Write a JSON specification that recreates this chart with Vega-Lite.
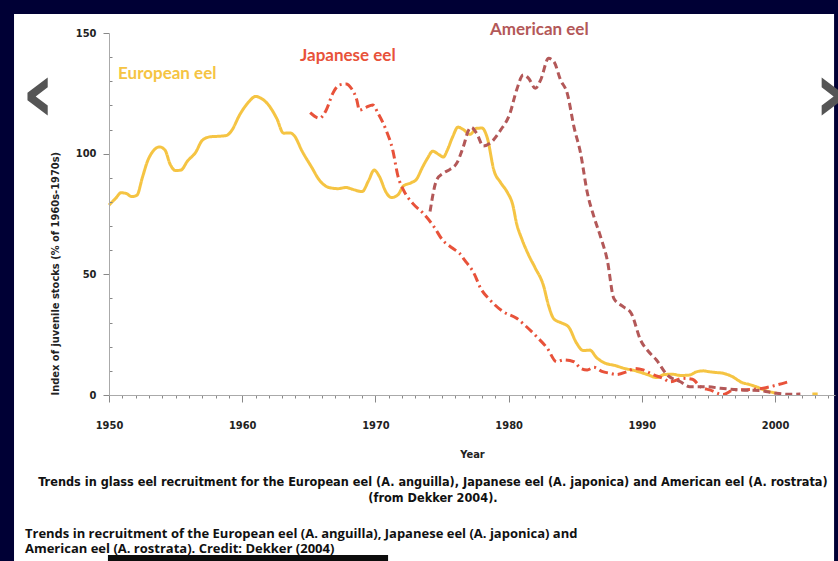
{
  "$schema": "https://vega.github.io/schema/vega-lite/v6.json",
  "width": 726,
  "height": 362,
  "autosize": "none",
  "padding": {"left": 109, "top": 33, "right": 3, "bottom": 166},
  "background": "#000035",
  "config": {"view": {"stroke": null}},
  "data": {"values": [{"note": "annotation"}]},
  "datasets": {
    "eels": [
      {"series": "European eel", "seg": "a", "year": 1950.0, "value": 78.7},
      {"series": "European eel", "seg": "a", "year": 1950.5, "value": 81.5},
      {"series": "European eel", "seg": "a", "year": 1950.9, "value": 83.8},
      {"series": "European eel", "seg": "a", "year": 1951.3, "value": 83.5},
      {"series": "European eel", "seg": "a", "year": 1951.7, "value": 82.2},
      {"series": "European eel", "seg": "a", "year": 1952.1, "value": 82.8},
      {"series": "European eel", "seg": "a", "year": 1952.5, "value": 90},
      {"series": "European eel", "seg": "a", "year": 1952.9, "value": 97},
      {"series": "European eel", "seg": "a", "year": 1953.3, "value": 101},
      {"series": "European eel", "seg": "a", "year": 1953.8, "value": 102.8},
      {"series": "European eel", "seg": "a", "year": 1954.2, "value": 101.5},
      {"series": "European eel", "seg": "a", "year": 1954.6, "value": 95.5},
      {"series": "European eel", "seg": "a", "year": 1955.0, "value": 93},
      {"series": "European eel", "seg": "a", "year": 1955.4, "value": 93.2},
      {"series": "European eel", "seg": "a", "year": 1955.9, "value": 97},
      {"series": "European eel", "seg": "a", "year": 1956.5, "value": 100.5},
      {"series": "European eel", "seg": "a", "year": 1957.0, "value": 105.5},
      {"series": "European eel", "seg": "a", "year": 1957.6, "value": 107},
      {"series": "European eel", "seg": "a", "year": 1958.2, "value": 107.2},
      {"series": "European eel", "seg": "a", "year": 1958.8, "value": 107.5},
      {"series": "European eel", "seg": "a", "year": 1959.2, "value": 109.5},
      {"series": "European eel", "seg": "a", "year": 1959.8, "value": 116},
      {"series": "European eel", "seg": "a", "year": 1960.5, "value": 121.5},
      {"series": "European eel", "seg": "a", "year": 1961.0, "value": 123.7},
      {"series": "European eel", "seg": "a", "year": 1961.4, "value": 123},
      {"series": "European eel", "seg": "a", "year": 1962.0, "value": 120},
      {"series": "European eel", "seg": "a", "year": 1962.6, "value": 114.5},
      {"series": "European eel", "seg": "a", "year": 1963.1, "value": 108.5},
      {"series": "European eel", "seg": "a", "year": 1963.6, "value": 108.6},
      {"series": "European eel", "seg": "a", "year": 1963.9, "value": 107.5},
      {"series": "European eel", "seg": "a", "year": 1964.5, "value": 101},
      {"series": "European eel", "seg": "a", "year": 1965.2, "value": 94.5},
      {"series": "European eel", "seg": "a", "year": 1965.8, "value": 89},
      {"series": "European eel", "seg": "a", "year": 1966.5, "value": 86},
      {"series": "European eel", "seg": "a", "year": 1967.2, "value": 85.5},
      {"series": "European eel", "seg": "a", "year": 1967.8, "value": 86},
      {"series": "European eel", "seg": "a", "year": 1968.3, "value": 85.2},
      {"series": "European eel", "seg": "a", "year": 1969.0, "value": 84.3},
      {"series": "European eel", "seg": "a", "year": 1969.5, "value": 89},
      {"series": "European eel", "seg": "a", "year": 1969.9, "value": 93.2},
      {"series": "European eel", "seg": "a", "year": 1970.3, "value": 90.5},
      {"series": "European eel", "seg": "a", "year": 1970.8, "value": 84},
      {"series": "European eel", "seg": "a", "year": 1971.2, "value": 81.8},
      {"series": "European eel", "seg": "a", "year": 1971.7, "value": 83},
      {"series": "European eel", "seg": "a", "year": 1972.1, "value": 86.6},
      {"series": "European eel", "seg": "a", "year": 1972.7, "value": 88},
      {"series": "European eel", "seg": "a", "year": 1973.1, "value": 89.5},
      {"series": "European eel", "seg": "a", "year": 1973.5, "value": 94},
      {"series": "European eel", "seg": "a", "year": 1973.9, "value": 98},
      {"series": "European eel", "seg": "a", "year": 1974.3, "value": 101},
      {"series": "European eel", "seg": "a", "year": 1974.8, "value": 99.5},
      {"series": "European eel", "seg": "a", "year": 1975.1, "value": 98.6},
      {"series": "European eel", "seg": "a", "year": 1975.4, "value": 101.5},
      {"series": "European eel", "seg": "a", "year": 1975.8, "value": 107},
      {"series": "European eel", "seg": "a", "year": 1976.2, "value": 111},
      {"series": "European eel", "seg": "a", "year": 1976.6, "value": 110},
      {"series": "European eel", "seg": "a", "year": 1977.1, "value": 108},
      {"series": "European eel", "seg": "a", "year": 1977.6, "value": 110.5},
      {"series": "European eel", "seg": "a", "year": 1978.0, "value": 110.6},
      {"series": "European eel", "seg": "a", "year": 1978.4, "value": 106.5},
      {"series": "European eel", "seg": "a", "year": 1978.9, "value": 93},
      {"series": "European eel", "seg": "a", "year": 1979.4, "value": 88},
      {"series": "European eel", "seg": "a", "year": 1979.9, "value": 84},
      {"series": "European eel", "seg": "a", "year": 1980.3, "value": 79},
      {"series": "European eel", "seg": "a", "year": 1980.6, "value": 71},
      {"series": "European eel", "seg": "a", "year": 1981.0, "value": 64.5},
      {"series": "European eel", "seg": "a", "year": 1981.5, "value": 58},
      {"series": "European eel", "seg": "a", "year": 1982.0, "value": 52.6},
      {"series": "European eel", "seg": "a", "year": 1982.6, "value": 45.6},
      {"series": "European eel", "seg": "a", "year": 1983.0, "value": 37},
      {"series": "European eel", "seg": "a", "year": 1983.4, "value": 31.5},
      {"series": "European eel", "seg": "a", "year": 1984.0, "value": 29.8},
      {"series": "European eel", "seg": "a", "year": 1984.5, "value": 28.2},
      {"series": "European eel", "seg": "a", "year": 1985.1, "value": 21.5},
      {"series": "European eel", "seg": "a", "year": 1985.6, "value": 18.4},
      {"series": "European eel", "seg": "a", "year": 1986.1, "value": 18.6},
      {"series": "European eel", "seg": "a", "year": 1986.6, "value": 15.5},
      {"series": "European eel", "seg": "a", "year": 1987.2, "value": 13.3},
      {"series": "European eel", "seg": "a", "year": 1988.0, "value": 12.2},
      {"series": "European eel", "seg": "a", "year": 1988.7, "value": 11},
      {"series": "European eel", "seg": "a", "year": 1989.4, "value": 10.2},
      {"series": "European eel", "seg": "a", "year": 1989.9, "value": 9.4},
      {"series": "European eel", "seg": "a", "year": 1990.5, "value": 8.3},
      {"series": "European eel", "seg": "a", "year": 1991.1, "value": 7.2},
      {"series": "European eel", "seg": "a", "year": 1991.7, "value": 8.5},
      {"series": "European eel", "seg": "a", "year": 1992.3, "value": 8.6},
      {"series": "European eel", "seg": "a", "year": 1992.9, "value": 8.1},
      {"series": "European eel", "seg": "a", "year": 1993.6, "value": 8.3},
      {"series": "European eel", "seg": "a", "year": 1994.1, "value": 9.6},
      {"series": "European eel", "seg": "a", "year": 1994.6, "value": 10},
      {"series": "European eel", "seg": "a", "year": 1995.1, "value": 9.6},
      {"series": "European eel", "seg": "a", "year": 1995.6, "value": 9.3},
      {"series": "European eel", "seg": "a", "year": 1996.1, "value": 9},
      {"series": "European eel", "seg": "a", "year": 1996.8, "value": 7.6},
      {"series": "European eel", "seg": "a", "year": 1997.5, "value": 5.2},
      {"series": "European eel", "seg": "a", "year": 1998.1, "value": 4.3},
      {"series": "European eel", "seg": "a", "year": 1998.7, "value": 3.2},
      {"series": "European eel", "seg": "a", "year": 1999.3, "value": 1.8},
      {"series": "European eel", "seg": "a", "year": 2000.1, "value": 0.8},
      {"series": "European eel", "seg": "b", "year": 2002.8, "value": 0.4},
      {"series": "European eel", "seg": "b", "year": 2003.2, "value": 0.4},
      {"series": "Japanese eel", "seg": "a", "year": 1965.1, "value": 117},
      {"series": "Japanese eel", "seg": "a", "year": 1965.8, "value": 114.7},
      {"series": "Japanese eel", "seg": "a", "year": 1966.3, "value": 118},
      {"series": "Japanese eel", "seg": "a", "year": 1966.8, "value": 125},
      {"series": "Japanese eel", "seg": "a", "year": 1967.3, "value": 128.5},
      {"series": "Japanese eel", "seg": "a", "year": 1967.8, "value": 128.9},
      {"series": "Japanese eel", "seg": "a", "year": 1968.2, "value": 127},
      {"series": "Japanese eel", "seg": "a", "year": 1968.6, "value": 122.3},
      {"series": "Japanese eel", "seg": "a", "year": 1968.8, "value": 118},
      {"series": "Japanese eel", "seg": "a", "year": 1969.3, "value": 119.2},
      {"series": "Japanese eel", "seg": "a", "year": 1969.8, "value": 120.2},
      {"series": "Japanese eel", "seg": "a", "year": 1970.2, "value": 116.7},
      {"series": "Japanese eel", "seg": "a", "year": 1970.8, "value": 109.8},
      {"series": "Japanese eel", "seg": "a", "year": 1971.3, "value": 101.5},
      {"series": "Japanese eel", "seg": "a", "year": 1971.7, "value": 90.5},
      {"series": "Japanese eel", "seg": "a", "year": 1972.1, "value": 85},
      {"series": "Japanese eel", "seg": "a", "year": 1972.8, "value": 79.4},
      {"series": "Japanese eel", "seg": "a", "year": 1973.6, "value": 75.2},
      {"series": "Japanese eel", "seg": "a", "year": 1974.4, "value": 69.7},
      {"series": "Japanese eel", "seg": "a", "year": 1975.0, "value": 64.5},
      {"series": "Japanese eel", "seg": "a", "year": 1975.8, "value": 60.8},
      {"series": "Japanese eel", "seg": "a", "year": 1976.3, "value": 58.8},
      {"series": "Japanese eel", "seg": "a", "year": 1976.7, "value": 55.9},
      {"series": "Japanese eel", "seg": "a", "year": 1977.4, "value": 50.4},
      {"series": "Japanese eel", "seg": "a", "year": 1977.9, "value": 44.2},
      {"series": "Japanese eel", "seg": "a", "year": 1978.6, "value": 39.4},
      {"series": "Japanese eel", "seg": "a", "year": 1979.6, "value": 34.5},
      {"series": "Japanese eel", "seg": "a", "year": 1980.6, "value": 31.8},
      {"series": "Japanese eel", "seg": "a", "year": 1981.2, "value": 29},
      {"series": "Japanese eel", "seg": "a", "year": 1982.1, "value": 24.2},
      {"series": "Japanese eel", "seg": "a", "year": 1982.9, "value": 19.4},
      {"series": "Japanese eel", "seg": "a", "year": 1983.6, "value": 13.8},
      {"series": "Japanese eel", "seg": "a", "year": 1984.1, "value": 14.5},
      {"series": "Japanese eel", "seg": "a", "year": 1984.9, "value": 13.8},
      {"series": "Japanese eel", "seg": "a", "year": 1985.4, "value": 11.1},
      {"series": "Japanese eel", "seg": "a", "year": 1985.9, "value": 10.4},
      {"series": "Japanese eel", "seg": "a", "year": 1986.4, "value": 11.5},
      {"series": "Japanese eel", "seg": "a", "year": 1987.0, "value": 9.8},
      {"series": "Japanese eel", "seg": "a", "year": 1987.6, "value": 9},
      {"series": "Japanese eel", "seg": "a", "year": 1988.1, "value": 8.5},
      {"series": "Japanese eel", "seg": "a", "year": 1988.9, "value": 9.7},
      {"series": "Japanese eel", "seg": "a", "year": 1989.5, "value": 11},
      {"series": "Japanese eel", "seg": "a", "year": 1990.1, "value": 10.4},
      {"series": "Japanese eel", "seg": "a", "year": 1990.9, "value": 8.3},
      {"series": "Japanese eel", "seg": "a", "year": 1991.6, "value": 6.9},
      {"series": "Japanese eel", "seg": "a", "year": 1992.1, "value": 5.5},
      {"series": "Japanese eel", "seg": "a", "year": 1993.1, "value": 6.9},
      {"series": "Japanese eel", "seg": "a", "year": 1993.8, "value": 6.5},
      {"series": "Japanese eel", "seg": "a", "year": 1994.4, "value": 3.4},
      {"series": "Japanese eel", "seg": "a", "year": 1995.1, "value": 2.1},
      {"series": "Japanese eel", "seg": "a", "year": 1996.1, "value": 0.2},
      {"series": "Japanese eel", "seg": "a", "year": 1996.9, "value": 2.1},
      {"series": "Japanese eel", "seg": "a", "year": 1998.1, "value": 2.3},
      {"series": "Japanese eel", "seg": "a", "year": 1999.1, "value": 2.8},
      {"series": "Japanese eel", "seg": "a", "year": 2000.1, "value": 4.1},
      {"series": "Japanese eel", "seg": "a", "year": 2001.0, "value": 5.5},
      {"series": "American eel", "seg": "a", "year": 1974.1, "value": 76},
      {"series": "American eel", "seg": "a", "year": 1974.6, "value": 89.1},
      {"series": "American eel", "seg": "a", "year": 1975.1, "value": 91.9},
      {"series": "American eel", "seg": "a", "year": 1975.6, "value": 93.5},
      {"series": "American eel", "seg": "a", "year": 1976.1, "value": 96},
      {"series": "American eel", "seg": "a", "year": 1976.6, "value": 102.9},
      {"series": "American eel", "seg": "a", "year": 1977.0, "value": 109.8},
      {"series": "American eel", "seg": "a", "year": 1977.2, "value": 110.9},
      {"series": "American eel", "seg": "a", "year": 1977.6, "value": 108.4},
      {"series": "American eel", "seg": "a", "year": 1978.1, "value": 103.2},
      {"series": "American eel", "seg": "a", "year": 1978.6, "value": 104.3},
      {"series": "American eel", "seg": "a", "year": 1979.4, "value": 109.8},
      {"series": "American eel", "seg": "a", "year": 1980.1, "value": 116.7},
      {"series": "American eel", "seg": "a", "year": 1980.6, "value": 126.4},
      {"series": "American eel", "seg": "a", "year": 1981.1, "value": 132.6},
      {"series": "American eel", "seg": "a", "year": 1981.5, "value": 131.2},
      {"series": "American eel", "seg": "a", "year": 1982.0, "value": 127.1},
      {"series": "American eel", "seg": "a", "year": 1982.4, "value": 130.5},
      {"series": "American eel", "seg": "a", "year": 1983.0, "value": 139.5},
      {"series": "American eel", "seg": "a", "year": 1983.4, "value": 138.1},
      {"series": "American eel", "seg": "a", "year": 1983.9, "value": 130.5},
      {"series": "American eel", "seg": "a", "year": 1984.4, "value": 125},
      {"series": "American eel", "seg": "a", "year": 1984.9, "value": 111.2},
      {"series": "American eel", "seg": "a", "year": 1985.4, "value": 100.2},
      {"series": "American eel", "seg": "a", "year": 1985.9, "value": 84},
      {"series": "American eel", "seg": "a", "year": 1986.4, "value": 73.9},
      {"series": "American eel", "seg": "a", "year": 1986.9, "value": 65.6},
      {"series": "American eel", "seg": "a", "year": 1987.4, "value": 56},
      {"series": "American eel", "seg": "a", "year": 1987.9, "value": 40},
      {"series": "American eel", "seg": "a", "year": 1988.6, "value": 36.6},
      {"series": "American eel", "seg": "a", "year": 1989.2, "value": 33.9},
      {"series": "American eel", "seg": "a", "year": 1989.9, "value": 22.8},
      {"series": "American eel", "seg": "a", "year": 1990.5, "value": 18},
      {"series": "American eel", "seg": "a", "year": 1991.1, "value": 14.5},
      {"series": "American eel", "seg": "a", "year": 1991.9, "value": 8.3},
      {"series": "American eel", "seg": "a", "year": 1992.9, "value": 5.5},
      {"series": "American eel", "seg": "a", "year": 1993.6, "value": 3.4},
      {"series": "American eel", "seg": "a", "year": 1994.9, "value": 3.4},
      {"series": "American eel", "seg": "a", "year": 1995.9, "value": 2.8},
      {"series": "American eel", "seg": "a", "year": 1997.4, "value": 2.1},
      {"series": "American eel", "seg": "a", "year": 1998.9, "value": 1.8},
      {"series": "American eel", "seg": "a", "year": 2000.1, "value": 0.7},
      {"series": "American eel", "seg": "a", "year": 2001.1, "value": 0.3},
      {"series": "American eel", "seg": "a", "year": 2001.9, "value": 0.4}
    ]
  },
  "layer": [
    {
      "mark": {"type": "rect", "color": "#ffffff"},
      "encoding": {
        "x": {"datum": 1942.87, "type": "quantitative", "title": "Year", "scale": {"domain": [1950, 2004.5], "nice": false, "zero": false}},
        "x2": {"datum": 2004.43},
        "y": {"datum": 157.9, "type": "quantitative", "title": "Index of juvenile stocks (% of 1960s-1970s)", "scale": {"domain": [0, 150], "nice": false}},
        "y2": {"datum": -68.8}
      }
    },
    {
      "mark": {"type": "rect", "color": "#0d0d0d"},
      "encoding": {
        "x": {"datum": 1949.92, "type": "quantitative", "title": "Year", "scale": {"domain": [1950, 2004.5], "nice": false, "zero": false}},
        "x2": {"datum": 1970.95},
        "y": {"datum": -66.3, "type": "quantitative", "title": "Index of juvenile stocks (% of 1960s-1970s)", "scale": {"domain": [0, 150], "nice": false}},
        "y2": {"datum": -68.8}
      }
    },
    {
      "data": {"name": "eels"},
      "mark": {"type": "line", "strokeWidth": 3, "interpolate": "monotone", "strokeCap": "butt"},
      "encoding": {
        "x": {
          "field": "year", "type": "quantitative", "title": "Year",
          "scale": {"domain": [1950, 2004.5], "nice": false, "zero": false},
          "axis": {
            "tickCount": 55,
            "labelExpr": "datum.value % 10 === 0 ? datum.label : ''",
            "format": "d",
            "tickSize": {"condition": {"test": "datum.value % 10 === 0", "value": 7}, "value": 3},
            "tickColor": "#888888",
            "domainColor": "#aaaaaa",
            "grid": false,
            "labelFont": "Liberation Sans Narrow, DejaVu Sans Condensed, sans-serif",
            "labelFontSize": 11,
            "labelFontWeight": "bold",
            "labelColor": "#222222",
            "labelPadding": 17,
            "labelFlush": false,
            "labelOverlap": false,
            "titleFont": "Liberation Sans Narrow, DejaVu Sans Condensed, sans-serif",
            "titleFontSize": 11,
            "titleFontWeight": "bold",
            "titleColor": "#222222",
            "titlePadding": 18,
            "zindex": 1
          }
        },
        "y": {
          "field": "value", "type": "quantitative", "title": "Index of juvenile stocks (% of 1960s-1970s)",
          "scale": {"domain": [0, 150], "nice": false},
          "axis": {
            "tickCount": 15,
            "labelExpr": "datum.value % 50 === 0 ? datum.label : ''",
            "tickSize": {"condition": {"test": "datum.value % 50 === 0", "value": 6}, "value": -3},
            "tickColor": "#888888",
            "domainColor": "#aaaaaa",
            "grid": false,
            "labelFont": "Liberation Sans Narrow, DejaVu Sans Condensed, sans-serif",
            "labelFontSize": 11,
            "labelFontWeight": "bold",
            "labelColor": "#222222",
            "labelPadding": 7,
            "labelFlush": false,
            "labelOverlap": false,
            "titleFont": "Liberation Sans Narrow, DejaVu Sans Condensed, sans-serif",
            "titleFontSize": 11,
            "titleFontWeight": "bold",
            "titleColor": "#222222",
            "titleAnchor": "start",
            "titlePadding": 15,
            "zindex": 1
          }
        },
        "color": {
          "field": "series", "type": "nominal",
          "scale": {"domain": ["European eel", "Japanese eel", "American eel"], "range": ["#F5C443", "#E8523A", "#B35858"]},
          "legend": null
        },
        "strokeDash": {
          "field": "series", "type": "nominal",
          "scale": {"domain": ["European eel", "Japanese eel", "American eel"], "range": [[1, 0], [9, 4, 2, 4], [7, 4]]},
          "legend": null
        },
        "detail": {"field": "seg", "type": "nominal"}
      }
    },
    {
      "mark": {"type": "text", "text": "European eel", "align": "left", "baseline": "middle", "font": "Lato", "fontSize": 17, "fontWeight": "bold", "color": "#F5C443"},
      "encoding": {
        "x": {"datum": 1950.68, "type": "quantitative", "title": "Year", "scale": {"domain": [1950, 2004.5], "nice": false, "zero": false}},
        "y": {"datum": 133, "type": "quantitative", "title": "Index of juvenile stocks (% of 1960s-1970s)", "scale": {"domain": [0, 150], "nice": false}}
      }
    },
    {
      "mark": {"type": "text", "text": "Japanese eel", "align": "left", "baseline": "middle", "font": "Lato", "fontSize": 17, "fontWeight": "bold", "color": "#E8523A"},
      "encoding": {
        "x": {"datum": 1964.34, "type": "quantitative", "title": "Year", "scale": {"domain": [1950, 2004.5], "nice": false, "zero": false}},
        "y": {"datum": 140.5, "type": "quantitative", "title": "Index of juvenile stocks (% of 1960s-1970s)", "scale": {"domain": [0, 150], "nice": false}}
      }
    },
    {
      "mark": {"type": "text", "text": "American eel", "align": "left", "baseline": "middle", "font": "Lato", "fontSize": 17, "fontWeight": "bold", "color": "#B35858"},
      "encoding": {
        "x": {"datum": 1978.6, "type": "quantitative", "title": "Year", "scale": {"domain": [1950, 2004.5], "nice": false, "zero": false}},
        "y": {"datum": 151.3, "type": "quantitative", "title": "Index of juvenile stocks (% of 1960s-1970s)", "scale": {"domain": [0, 150], "nice": false}}
      }
    },
    {
      "mark": {"type": "text", "text": ["Trends in glass eel recruitment for the European eel (A. anguilla), Japanese eel (A. japonica) and American eel (A. rostrata)", "(from Dekker 2004)."], "align": "center", "baseline": "alphabetic", "lineHeight": 16, "font": "Liberation Sans Narrow, DejaVu Sans Condensed, sans-serif", "fontSize": 12.6, "fontWeight": "bold", "color": "#111111"},
      "encoding": {
        "x": {"datum": 1974.32, "type": "quantitative", "title": "Year", "scale": {"domain": [1950, 2004.5], "nice": false, "zero": false}},
        "y": {"datum": -37.5, "type": "quantitative", "title": "Index of juvenile stocks (% of 1960s-1970s)", "scale": {"domain": [0, 150], "nice": false}}
      }
    },
    {
      "mark": {"type": "text", "text": ["Trends in recruitment of the European eel (A. anguilla), Japanese eel (A. japonica) and", "American eel (A. rostrata). Credit: Dekker (2004)"], "align": "left", "baseline": "alphabetic", "lineHeight": 15, "font": "Open Sans", "fontSize": 13, "fontWeight": "bold", "color": "#111111"},
      "encoding": {
        "x": {"datum": 1943.69, "type": "quantitative", "title": "Year", "scale": {"domain": [1950, 2004.5], "nice": false, "zero": false}},
        "y": {"datum": -59.3, "type": "quantitative", "title": "Index of juvenile stocks (% of 1960s-1970s)", "scale": {"domain": [0, 150], "nice": false}}
      }
    },
    {
      "mark": {"type": "text", "text": "‹", "align": "center", "baseline": "middle", "font": "DejaVu Sans", "fontSize": 84, "fontWeight": "bold", "color": "#555555"},
      "encoding": {
        "x": {"datum": 1944.7, "type": "quantitative", "title": "Year", "scale": {"domain": [1950, 2004.5], "nice": false, "zero": false}},
        "y": {"datum": 124, "type": "quantitative", "title": "Index of juvenile stocks (% of 1960s-1970s)", "scale": {"domain": [0, 150], "nice": false}}
      }
    },
    {
      "mark": {"type": "text", "text": "›", "align": "center", "baseline": "middle", "font": "DejaVu Sans", "fontSize": 84, "fontWeight": "bold", "color": "#555555"},
      "encoding": {
        "x": {"datum": 2004.2, "type": "quantitative", "title": "Year", "scale": {"domain": [1950, 2004.5], "nice": false, "zero": false}},
        "y": {"datum": 124, "type": "quantitative", "title": "Index of juvenile stocks (% of 1960s-1970s)", "scale": {"domain": [0, 150], "nice": false}}
      }
    }
  ]
}
